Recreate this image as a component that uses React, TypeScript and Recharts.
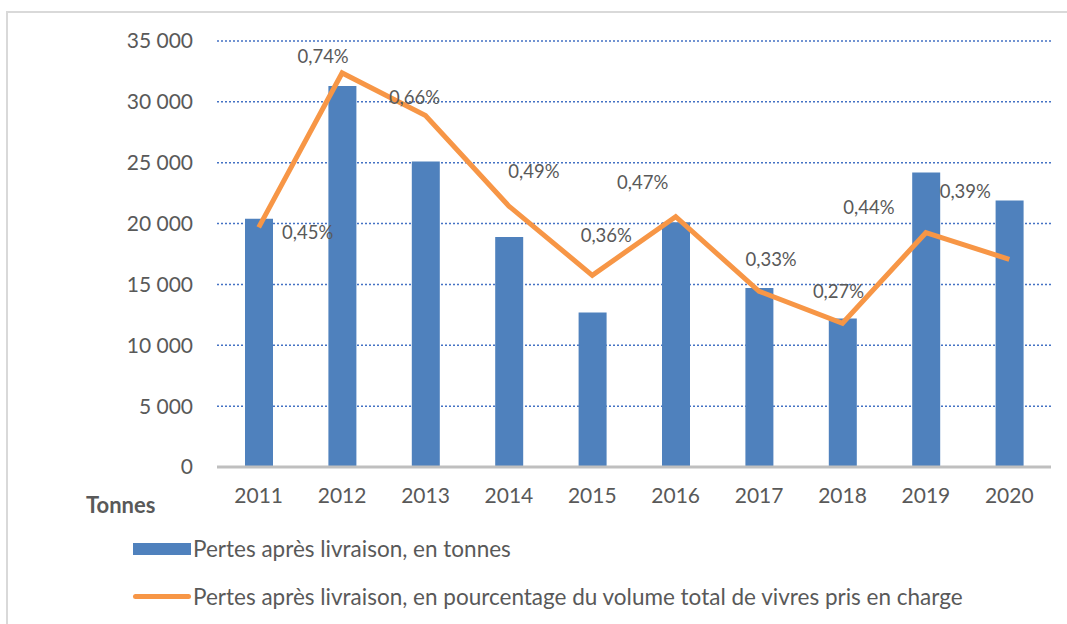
import { ComposedChart, Bar, Line, XAxis, YAxis, CartesianGrid, LabelList } from 'recharts';

const years = ['2011', '2012', '2013', '2014', '2015', '2016', '2017', '2018', '2019', '2020'];
const tonnes = [20400, 31300, 25100, 18900, 12700, 20100, 14700, 12200, 24200, 21900];
const percents = [0.45, 0.74, 0.66, 0.49, 0.36, 0.47, 0.33, 0.27, 0.44, 0.39];
const yTicks = [0, 5000, 10000, 15000, 20000, 25000, 30000, 35000];

// label centre offset from each line point, as hand-placed in the original
const labelOffsets: [number, number][] = [
  [49, 5], [-19, -17], [-11, -19], [25, -35], [14, -40],
  [-33, -35], [12, -32], [-4, -32], [-57, -26], [-44, -68],
];

const data = years.map((year, i) => ({ year, tonnes: tonnes[i], pct: percents[i] }));

const FONT = 'Lato, "Open Sans", sans-serif';
const TEXT = '#595959';
const BLUE = '#4F81BD';
const ORANGE = '#F79646';

const fmtThousands = (v: number) => v.toLocaleString('en-US').replace(/,/g, ' ');
const fmtPct = (v: number) => v.toFixed(2).replace('.', ',') + '%';

const PctLabel = (props: any) => {
  const { x, y, value, index } = props;
  const [dx, dy] = labelOffsets[index] ?? [0, -20];
  return (
    <text x={x + dx} y={y + dy} textAnchor="middle" dominantBaseline="central" fill={TEXT} fontSize={18.5} fontFamily={FONT}>
      {fmtPct(value)}
    </text>
  );
};

export default function App() {
  return (
    <div style={{ position: 'absolute', left: 0, top: 0, width: 1067, height: 624, background: '#fff', overflow: 'hidden', fontFamily: FONT }}>
      <div style={{ position: 'absolute', left: 6, top: 11, width: 1070, height: 640, borderLeft: '2px solid #d9d9d9', borderTop: '2px solid #d9d9d9' }} />
      <div style={{ position: 'absolute', left: 0, top: 0 }}>
        <ComposedChart width={1067} height={507} data={data} margin={{ top: 41, right: 16, left: 0, bottom: 0 }}>
          <CartesianGrid yAxisId="left" vertical={false} stroke="#4472C4" strokeDasharray="2 2" strokeWidth={1.5} />
          <XAxis
            dataKey="year"
            height={40}
            axisLine={{ stroke: '#BFBFBF', strokeWidth: 3 }}
            tickLine={false}
            tickSize={0}
            tickMargin={21}
            tick={{ fill: TEXT, fontSize: 21, fontFamily: FONT }}
          />
          <YAxis
            yAxisId="left"
            width={217}
            domain={[0, 35000]}
            ticks={yTicks}
            axisLine={false}
            tickLine={false}
            tickSize={0}
            tickMargin={24}
            tickFormatter={fmtThousands}
            tick={{ fill: TEXT, fontSize: 21, fontFamily: FONT }}
          />
          <YAxis yAxisId="right" orientation="right" hide domain={[0, 0.8]} />
          <Bar yAxisId="left" dataKey="tonnes" fill={BLUE} barSize={28} isAnimationActive={false} />
          <Line
            yAxisId="right"
            dataKey="pct"
            type="linear"
            stroke={ORANGE}
            strokeWidth={5}
            dot={false}
            isAnimationActive={false}
          >
            <LabelList dataKey="pct" content={PctLabel} />
          </Line>
        </ComposedChart>
      </div>
      <div style={{ position: 'absolute', left: 86, top: 491, fontSize: 22, fontWeight: 700, color: TEXT }}>Tonnes</div>
      <div style={{ position: 'absolute', left: 133, top: 535, display: 'flex', alignItems: 'center', fontSize: 22.5, color: TEXT, whiteSpace: 'nowrap' }}>
        <span style={{ display: 'inline-block', width: 58, height: 12, background: BLUE, marginRight: 2 }} />
        Pertes après livraison, en tonnes
      </div>
      <div style={{ position: 'absolute', left: 133, top: 583, display: 'flex', alignItems: 'center', fontSize: 22.5, color: TEXT, whiteSpace: 'nowrap' }}>
        <span style={{ display: 'inline-block', width: 58, height: 5, borderRadius: 3, background: ORANGE, marginRight: 2 }} />
        Pertes après livraison, en pourcentage du volume total de vivres pris en charge
      </div>
    </div>
  );
}
